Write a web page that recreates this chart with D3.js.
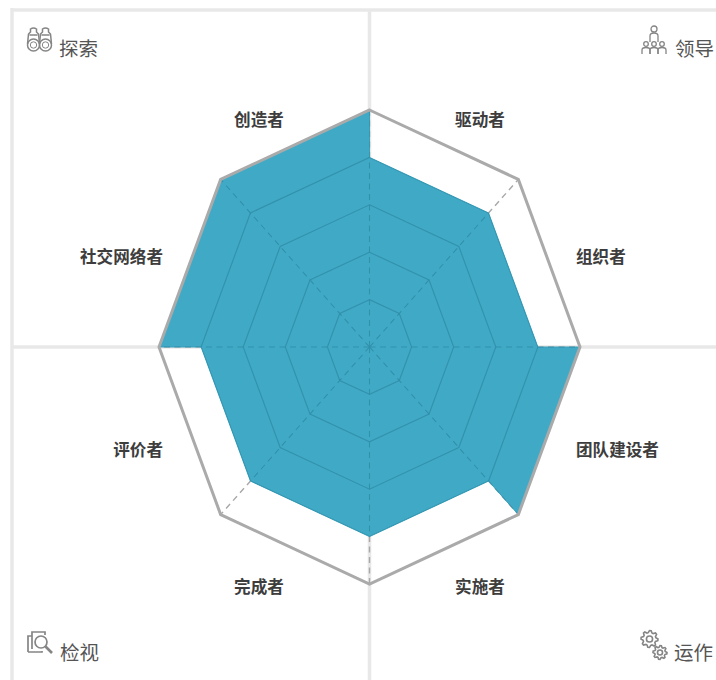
<!DOCTYPE html>
<html><head><meta charset="utf-8">
<script src="https://cdnjs.cloudflare.com/ajax/libs/d3/7.8.5/d3.min.js"></script>
<style>html,body{margin:0;padding:0;background:#fff;overflow:hidden}svg{display:block}</style>
</head><body><svg id="c" width="716" height="680"></svg>
<script>
const categories=["驱动者","组织者","团队建设者","实施者","完成者","评价者","社交网络者","创造者"];
const values=[4,4,5,4,4,4,5,5];
const levels=[1,2,3,4,5];
const quadrants=["探索","领导","检视","运作"];
const cx=369.5,cy=347;
const svg=d3.select("#c");
const sx=d3.scaleLinear().domain([0,5]).range([0,210.5]);
const sy=d3.scaleLinear().domain([0,5]).range([0,237]);
const ang=d3.scaleLinear().domain([0,8]).range([0,2*Math.PI]);
const pt=(i,v)=>[cx+sx(v)*Math.sin(ang(i)),cy-sy(v)*Math.cos(ang(i))];
const line=d3.line();
const ring=v=>line(d3.range(8).map(i=>pt(i,v)))+"Z";
const shape=line(values.flatMap((v,i)=>[pt(i,v),pt(i+1,v)]))+"Z";
const bar="#e8e8e8";
// quadrant frame
[[12,10,716,10],[12,8,12,680],[369.5,10,369.5,680],[12,347,716,347]].forEach(l=>
 svg.append("line").attr("x1",l[0]).attr("y1",l[1]).attr("x2",l[2]).attr("y2",l[3]).attr("stroke",bar).attr("stroke-width",3.5));
// grey spokes below
const spokes=(g,col,w)=>g.selectAll(null).data(d3.range(8)).join("line")
 .attr("x1",cx).attr("y1",cy).attr("x2",i=>pt(i,5)[0]).attr("y2",i=>pt(i,5)[1])
 .attr("stroke",col).attr("stroke-width",w).attr("stroke-dasharray","6 4.5");
spokes(svg.append("g"),"#a8a8a8",1.4);
// filled area
svg.append("path").attr("d",shape).attr("fill","#40aac6").attr("stroke","#3a9fbb").attr("stroke-width",1);
// grid seen through the fill
svg.append("clipPath").attr("id","fillClip").append("path").attr("d",shape);
const inner=svg.append("g").attr("clip-path","url(#fillClip)");
inner.selectAll(null).data(levels.slice(0,4)).join("path").attr("d",ring)
 .attr("fill","none").attr("stroke","#3392ad").attr("stroke-width",1.2);
spokes(inner,"#3190ab",1.1);
// outer ring
svg.append("path").attr("d",ring(5)).attr("fill","none").attr("stroke","#aaa").attr("stroke-width",3);
// category labels
const lab=svg.append("g").attr("font-family","'Noto Sans CJK SC'").attr("font-size",16.6).attr("font-weight",700).attr("fill","#3d3d3d");
categories.forEach((c,i)=>{
 const a=ang(i+.5),s=Math.sin(a),co=Math.cos(a),side=Math.abs(s)>.7;
 const x=side?cx+Math.sign(s)*206.5:cx+Math.sign(s)*110.5;
 const y=cy+6.5-Math.sign(co)*(side?96.5:233.5);
 lab.append("text").attr("x",x).attr("y",y).attr("dy","0.38em")
  .attr("text-anchor",side?(s>0?"start":"end"):"middle").text(c);
});
// corner labels
const qx=[59,675,60,674],qy=[49,49,653,653];
svg.append("g").attr("font-family","'Noto Sans CJK SC'").attr("font-size",19.5).attr("fill","#555")
 .selectAll("text").data(quadrants).join("text").attr("x",(d,i)=>qx[i]).attr("y",(d,i)=>qy[i]).attr("dy","0.36em").text(d=>d);
// icons
const ic=svg.append("g").attr("fill","none").attr("stroke","#858585").attr("stroke-width",1.5);
// binoculars
const b=ic.append("g").attr("transform","translate(27,27)");
[6.5,18.5].forEach(x=>{
 b.append("circle").attr("cx",x).attr("cy",18).attr("r",6);
 b.append("circle").attr("cx",x).attr("cy",18).attr("r",3.2).attr("stroke-width",1);
 b.append("path").attr("d",`M${x-6} 17 L${x-5} 7 L${x-3} 5 V2 Q${x} 0 ${x+3} 2 V5 L${x+5} 7 L${x+6} 17 M${x-4} 8 H${x+4}`);
});
// people
const p=ic.append("g").attr("transform","translate(642,25)").attr("stroke-width",1.3);
p.append("circle").attr("cx",12).attr("cy",4).attr("r",3);
p.append("path").attr("d","M8 17 V11 Q8 8 12 8 Q16 8 16 11 V17");
[4,12,20].forEach(x=>{
 p.append("circle").attr("cx",x).attr("cy",19).attr("r",2.3);
 p.append("path").attr("d",`M${x-4} 29 V25 Q${x-4} 22.5 ${x} 22.5 Q${x+4} 22.5 ${x+4} 25 V29`);
});
// document with magnifier
const d=ic.append("g").attr("transform","translate(27,631)").attr("stroke-width",1.7);
d.append("path").attr("d","M1 21 V5 H5 M1 21 H15 V20");
d.append("path").attr("d","M5 18 V1 H18 V4");
d.append("circle").attr("cx",14).attr("cy",11).attr("r",6);
d.append("path").attr("d","M18.5 15.5 L25 22").attr("stroke-width",2.6);
// gears
const gear=(x,y,r,n)=>{
 const pts=d3.range(n*4).map(i=>{const a=i/(n*4)*2*Math.PI,q=(i%4<2)?r:r*.76;return [x+q*Math.cos(a),y+q*Math.sin(a)];});
 ic.append("path").attr("d",line(pts)+"Z").attr("stroke-width",1.6);
 ic.append("circle").attr("cx",x).attr("cy",y).attr("r",r*.36).attr("stroke-width",1.6);
};
gear(649.5,639,8.5,8);gear(660,652.5,7,8);
</script></body></html>
